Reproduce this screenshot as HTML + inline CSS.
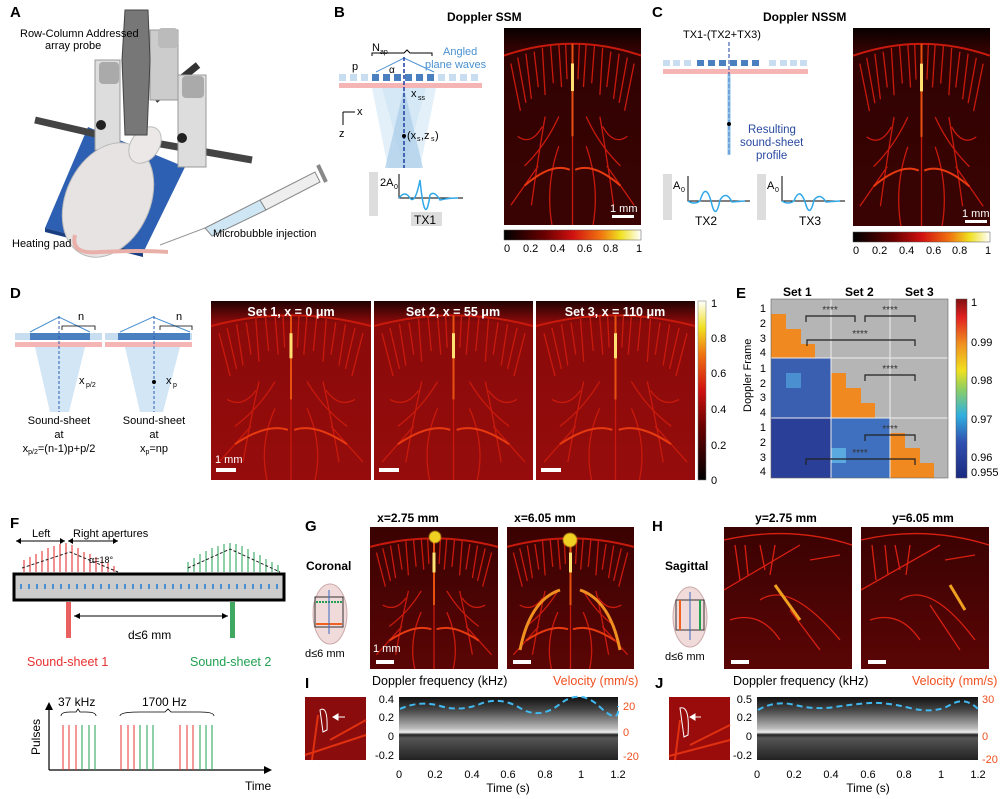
<!DOCTYPE html>
<html><head><meta charset="utf-8"><style>
body{margin:0;background:#fff}
svg{display:block;font-family:"Liberation Sans",Arial,sans-serif}
.pl{font-weight:bold;font-size:15px}
.t{font-size:11px}
.tb{font-size:12px;font-weight:bold}
</style></head><body>
<svg width="1004" height="799" viewBox="0 0 1004 799" xmlns="http://www.w3.org/2000/svg">
<defs>
<linearGradient id="hot" x1="0" x2="1" y1="0" y2="0">
<stop offset="0" stop-color="#000"/><stop offset="0.3" stop-color="#6a0000"/><stop offset="0.5" stop-color="#d01010"/><stop offset="0.7" stop-color="#f07010"/><stop offset="0.85" stop-color="#f0e020"/><stop offset="1" stop-color="#fff"/></linearGradient>
<linearGradient id="hotv" x1="0" x2="0" y1="1" y2="0">
<stop offset="0" stop-color="#000"/><stop offset="0.3" stop-color="#6a0000"/><stop offset="0.5" stop-color="#d01010"/><stop offset="0.7" stop-color="#f07010"/><stop offset="0.85" stop-color="#f0e020"/><stop offset="1" stop-color="#fff"/></linearGradient>
<linearGradient id="jet" x1="0" x2="0" y1="1" y2="0">
<stop offset="0" stop-color="#1a2a80"/><stop offset="0.2" stop-color="#3050b0"/><stop offset="0.35" stop-color="#30b0e0"/><stop offset="0.5" stop-color="#90d060"/><stop offset="0.6" stop-color="#f0e020"/><stop offset="0.75" stop-color="#f09020"/><stop offset="0.9" stop-color="#e02020"/><stop offset="1" stop-color="#801010"/></linearGradient>
<linearGradient id="darkbg" x1="0" x2="0" y1="0" y2="1">
<stop offset="0" stop-color="#080000"/><stop offset="0.1" stop-color="#300202"/><stop offset="1" stop-color="#3a0303"/></linearGradient>
<linearGradient id="medbg" x1="0" x2="0" y1="0" y2="1">
<stop offset="0" stop-color="#200202"/><stop offset="0.12" stop-color="#8a0a0a"/><stop offset="1" stop-color="#960c0c"/></linearGradient>
<linearGradient id="ghbg" x1="0" x2="0" y1="0" y2="1">
<stop offset="0" stop-color="#3a0202"/><stop offset="1" stop-color="#5a0505"/></linearGradient>
<linearGradient id="spec" x1="0" x2="0" y1="0" y2="1">
<stop offset="0" stop-color="#111"/><stop offset="0.2" stop-color="#444"/><stop offset="0.5" stop-color="#bbb"/><stop offset="0.56" stop-color="#eee"/><stop offset="0.6" stop-color="#222"/><stop offset="0.65" stop-color="#555"/><stop offset="1" stop-color="#222"/></linearGradient>
<filter id="bl" x="-10%" y="-10%" width="120%" height="120%"><feGaussianBlur stdDeviation="0.5"/></filter>
<symbol id="brain" viewBox="0 0 100 100" preserveAspectRatio="none">
<g fill="none" stroke="#c81a0c" stroke-width="1.3" vector-effect="non-scaling-stroke">
<path d="M0 14 Q50 2 100 14" stroke-width="2" vector-effect="non-scaling-stroke"/>
<path d="M5 18 L12 42 M10 15 L16 38 M16 13 L20 36 M22 12 L25 30 M28 10 L30 34 M34 9 L36 28 M40 8 L42 30 M45 8 L46 26 M55 8 L54 26 M60 8 L58 30 M66 9 L64 28 M72 10 L70 34 M78 12 L75 30 M84 13 L80 36 M90 15 L84 38 M95 18 L88 42" vector-effect="non-scaling-stroke"/>
<path d="M30 45 Q25 65 20 90 M70 45 Q75 65 80 90 M40 60 Q30 80 35 100 M60 60 Q70 80 65 100 M50 55 L50 100 M10 55 Q20 60 28 50 M90 55 Q80 60 72 50 M15 70 Q30 60 40 45 M85 70 Q70 60 60 45 M5 90 Q15 80 25 70 M95 90 Q85 80 75 70" vector-effect="non-scaling-stroke"/>
<path d="M15 80 Q35 68 48 72 M52 72 Q65 68 85 80" stroke="#e83a10" stroke-width="2" vector-effect="non-scaling-stroke"/>
</g>
<path d="M50 8 L50 55" stroke="#e85010" stroke-width="2" vector-effect="non-scaling-stroke"/>
<path d="M50 18 L50 32" stroke="#ffe070" stroke-width="3" vector-effect="non-scaling-stroke"/>
</symbol>
</defs>

<!-- Panel A -->
<text x="10" y="17" class="pl">A</text>
<polygon points="45,228 143,253 185,167 88,127" fill="#2d5fb2"/>
<polygon points="45,228 143,253 143,257 45,232" fill="#1a3f80"/>
<line x1="35" y1="120" x2="100" y2="135" stroke="#444" stroke-width="7"/>
<line x1="155" y1="143" x2="252" y2="160" stroke="#444" stroke-width="7"/>
<line x1="155" y1="100" x2="198" y2="65" stroke="#333" stroke-width="7"/>
<rect x="150" y="30" width="28" height="70" fill="#ccc" stroke="#999"/>
<rect x="158" y="28" width="20" height="20" rx="4" fill="#bbb"/>
<rect x="95" y="60" width="25" height="90" fill="#ddd" stroke="#999"/>
<rect x="99" y="62" width="20" height="22" rx="4" fill="#aaa"/>
<rect x="178" y="75" width="28" height="92" fill="#ddd" stroke="#999"/>
<rect x="182" y="76" width="22" height="22" rx="4" fill="#aaa"/>
<circle cx="101" cy="125" r="5" fill="#222"/><circle cx="182" cy="138" r="5" fill="#222"/>
<ellipse cx="108" cy="200" rx="42" ry="60" transform="rotate(25 108 200)" fill="#e8e3e3" stroke="#bbb"/>
<ellipse cx="145" cy="145" rx="14" ry="20" transform="rotate(35 145 145)" fill="#ece8e8" stroke="#bbb"/>
<path d="M125 10 L148 10 L150 60 L147 135 L125 135 L122 60 Z" fill="#777" stroke="#444"/>
<path d="M75 235 Q70 255 100 252 Q140 250 168 252" fill="none" stroke="#e8b0a8" stroke-width="4"/>
<line x1="160" y1="245" x2="205" y2="228" stroke="#999" stroke-width="1"/>
<polygon points="205,228 260,200 266,210 212,236" fill="#cfe6f5" stroke="#888"/>
<polygon points="260,200 315,172 320,182 266,210" fill="#eee" stroke="#888"/>
<line x1="318" y1="165" x2="326" y2="182" stroke="#888" stroke-width="4"/>
<text x="20" y="37" class="t">Row-Column Addressed</text>
<text x="45" y="49" class="t">array probe</text>
<text x="12" y="247" class="t">Heating pad</text>
<text x="213" y="237" class="t">Microbubble injection</text>

<!-- Panel B -->
<text x="334" y="17" class="pl">B</text>
<text x="447" y="21" class="tb" font-size="13">Doppler SSM</text>
<text x="372" y="51" class="t">N</text><text x="380" y="54" font-size="7">ap</text>
<path d="M372 56 L372 53 L404 53 L407 50 L410 53 L432 53 L432 56" fill="none" stroke="#000"/>
<text x="443" y="55" class="t" fill="#4a90d0" font-size="12">Angled</text>
<text x="425" y="68" class="t" fill="#4a90d0" font-size="12">plane waves</text>
<text x="352" y="70" class="t">p</text>
<g fill="#c8ddf0"><rect x="339" y="74" width="7" height="7"/><rect x="350" y="74" width="7" height="7"/><rect x="361" y="74" width="7" height="7"/><rect x="438" y="74" width="7" height="7"/><rect x="449" y="74" width="7" height="7"/><rect x="460" y="74" width="7" height="7"/><rect x="471" y="74" width="7" height="7"/></g>
<g fill="#4a7fc0"><rect x="372" y="74" width="7" height="7"/><rect x="383" y="74" width="7" height="7"/><rect x="394" y="74" width="7" height="7"/><rect x="405" y="74" width="7" height="7"/><rect x="416" y="74" width="7" height="7"/><rect x="427" y="74" width="7" height="7"/></g>
<path d="M376 72 L404 58 L434 72" fill="none" stroke="#4a90d0"/>
<text x="389" y="73" font-size="10">α</text>
<rect x="339" y="83" width="143" height="5" fill="#f5b5b5"/>
<polygon points="382,88 426,88 404,168" fill="#c0dcf0" opacity="0.8"/>
<polygon points="372,88 436,88 420,168 388,168" fill="#d8eaf7" opacity="0.7"/>
<polygon points="385,168 423,168 404,88" fill="#a8cce8" opacity="0.7"/>
<line x1="404" y1="57" x2="404" y2="168" stroke="#1f3f9f" stroke-width="1.5" stroke-dasharray="4,2"/>
<text x="411" y="97" class="t">x</text><text x="418" y="100" font-size="7">ss</text>
<path d="M343 112 L343 125 M343 112 L355 112" stroke="#000" fill="none"/>
<text x="357" y="115" class="t">x</text><text x="339" y="137" class="t">z</text>
<circle cx="404" cy="136" r="2" fill="#000"/><text x="407" y="139" class="t">(x</text><text x="417" y="141" font-size="7">s</text><text x="421" y="139" class="t">,z</text><text x="431" y="141" font-size="7">s</text><text x="435" y="139" class="t">)</text>
<rect x="369" y="172" width="9" height="44" fill="#ddd"/>
<text x="380" y="186" class="t">2A</text><text x="394" y="189" font-size="7">0</text>
<path d="M399 174 L399 198 L463 198" stroke="#000" fill="none"/>
<path d="M399 198 Q405 190 410 198 Q415 205 420 180 Q425 230 430 195 Q434 190 440 200 Q448 198 458 198" stroke="#30a8e8" stroke-width="1.5" fill="none"/>
<rect x="411" y="212" width="31" height="14" fill="#ddd"/><text x="414" y="224" font-size="12">TX1</text>
<rect x="504" y="28" width="137" height="197" fill="url(#darkbg)"/>
<use href="#brain" x="504" y="28" width="137" height="197"/>
<rect x="612" y="215" width="22" height="3" fill="#fff"/><text x="610" y="212" class="t" fill="#fff">1 mm</text>
<rect x="504" y="230" width="137" height="10" fill="url(#hot)" stroke="#555" stroke-width="0.5"/>
<g class="t" font-size="11"><text x="504" y="252">0</text><text x="523" y="252">0.2</text><text x="550" y="252">0.4</text><text x="577" y="252">0.6</text><text x="603" y="252">0.8</text><text x="636" y="252">1</text></g>

<!-- Panel C -->
<text x="652" y="17" class="pl">C</text>
<text x="763" y="21" class="tb" font-size="13">Doppler NSSM</text>
<text x="683" y="38" class="t" font-size="12">TX1-(TX2+TX3)</text>
<g fill="#c8ddf0"><rect x="663" y="60" width="7" height="6"/><rect x="673" y="60" width="7" height="6"/><rect x="684" y="60" width="7" height="6"/><rect x="769" y="60" width="7" height="6"/><rect x="780" y="60" width="7" height="6"/><rect x="790" y="60" width="7" height="6"/><rect x="800" y="60" width="7" height="6"/></g>
<g fill="#4a7fc0"><rect x="697" y="60" width="7" height="6"/><rect x="708" y="60" width="7" height="6"/><rect x="719" y="60" width="7" height="6"/><rect x="730" y="60" width="7" height="6"/><rect x="741" y="60" width="7" height="6"/><rect x="752" y="60" width="7" height="6"/></g>
<rect x="663" y="69" width="145" height="5" fill="#f5b5b5"/>
<line x1="729" y1="42" x2="729" y2="155" stroke="#1f3f9f" stroke-dasharray="4,2"/>
<line x1="729" y1="74" x2="729" y2="155" stroke="#60a8e0" stroke-width="3" opacity="0.7"/>
<circle cx="729" cy="124" r="2" fill="#000"/>
<g fill="#2a4aa0" font-size="11.5"><text x="748" y="133">Resulting</text><text x="740" y="146">sound-sheet</text><text x="756" y="159">profile</text></g>
<rect x="663" y="174" width="9" height="46" fill="#ddd"/><rect x="757" y="174" width="9" height="46" fill="#ddd"/>
<text x="673" y="189" class="t">A</text><text x="681" y="192" font-size="7">0</text>
<text x="767" y="189" class="t">A</text><text x="775" y="192" font-size="7">0</text>
<path d="M688 176 L688 201 L750 201 M782 176 L782 201 L845 201" stroke="#000" fill="none"/>
<path d="M688 201 Q694 205 700 201 Q706 180 712 205 Q716 220 720 200 Q726 190 732 202 L745 201" stroke="#30a8e8" stroke-width="1.5" fill="none"/>
<path d="M782 201 Q788 205 794 201 Q800 185 806 205 Q810 218 814 200 Q820 192 826 202 L840 201" stroke="#30a8e8" stroke-width="1.5" fill="none"/>
<text x="695" y="225" font-size="12">TX2</text><text x="799" y="225" font-size="12">TX3</text>
<rect x="853" y="28" width="137" height="198" fill="url(#darkbg)"/>
<use href="#brain" x="853" y="28" width="137" height="198"/>
<rect x="965" y="220" width="22" height="3" fill="#fff"/><text x="962" y="217" class="t" fill="#fff">1 mm</text>
<rect x="853" y="232" width="137" height="10" fill="url(#hot)" stroke="#555" stroke-width="0.5"/>
<g class="t"><text x="853" y="254">0</text><text x="872" y="254">0.2</text><text x="899" y="254">0.4</text><text x="926" y="254">0.6</text><text x="952" y="254">0.8</text><text x="985" y="254">1</text></g>

<!-- Panel D -->
<text x="10" y="298" class="pl">D</text>
<g>
<rect x="15" y="333" width="87" height="7" fill="#c8ddf0"/><rect x="30" y="333" width="60" height="7" fill="#4a7fc0"/>
<rect x="105" y="333" width="87" height="7" fill="#c8ddf0"/><rect x="118" y="333" width="72" height="7" fill="#4a7fc0"/>
<rect x="15" y="342" width="87" height="5" fill="#f5b5b5"/><rect x="105" y="342" width="87" height="5" fill="#f5b5b5"/>
<path d="M30 332 L59 317 L90 332 M120 332 L153 317 L190 332" fill="none" stroke="#4a90d0"/>
<polygon points="35,347 85,347 69,412 50,412" fill="#c8e0f4" opacity="0.8"/>
<polygon points="125,347 180,347 163,412 140,412" fill="#c8e0f4" opacity="0.8"/>
<line x1="59" y1="316" x2="59" y2="412" stroke="#2a5fb0" stroke-dasharray="3,2"/>
<line x1="154" y1="316" x2="154" y2="412" stroke="#2a5fb0" stroke-dasharray="3,2"/>
<text x="78" y="320" class="t">n</text><text x="176" y="320" class="t">n</text>
<path d="M62 330 L62 326 L95 326 L95 330 M160 330 L160 326 L192 326 L192 330" fill="none" stroke="#000" stroke-width="0.8"/>
<circle cx="154" cy="382" r="2" fill="#000"/>
<text x="79" y="384" class="t">x</text><text x="86" y="387" font-size="7">p/2</text>
<text x="166" y="384" class="t">x</text><text x="173" y="387" font-size="7">p</text>
<g font-size="11" text-anchor="middle"><text x="59" y="424">Sound-sheet</text><text x="59" y="438">at</text><text x="59" y="452">x<tspan font-size="7" dy="2">p/2</tspan><tspan dy="-2">=(n-1)p+p/2</tspan></text>
<text x="154" y="424">Sound-sheet</text><text x="154" y="438">at</text><text x="154" y="452">x<tspan font-size="7" dy="2">p</tspan><tspan dy="-2">=np</tspan></text></g>
</g>
<rect x="211" y="301" width="160" height="179" fill="url(#medbg)"/><use href="#brain" x="211" y="301" width="160" height="179"/>
<rect x="374" y="301" width="159" height="179" fill="url(#medbg)"/><use href="#brain" x="374" y="301" width="159" height="179"/>
<rect x="536" y="301" width="159" height="179" fill="url(#medbg)"/><use href="#brain" x="536" y="301" width="159" height="179"/>
<g fill="#fff" font-size="12.5" font-weight="bold" text-anchor="middle"><text x="291" y="316">Set 1, x = 0 μm</text><text x="453" y="316">Set 2, x = 55 μm</text><text x="615" y="316">Set 3, x = 110 μm</text></g>
<text x="215" y="463" class="t" fill="#fff">1 mm</text>
<rect x="216" y="468" width="20" height="4" fill="#fff"/><rect x="379" y="468" width="20" height="4" fill="#fff"/><rect x="541" y="468" width="20" height="4" fill="#fff"/>
<rect x="698" y="301" width="8" height="179" fill="url(#hotv)" stroke="#777" stroke-width="0.5"/>
<g class="t"><text x="711" y="307">1</text><text x="711" y="342">0.8</text><text x="711" y="377">0.6</text><text x="711" y="413">0.4</text><text x="711" y="449">0.2</text><text x="711" y="484">0</text></g>

<!-- Panel E -->
<text x="736" y="298" class="pl">E</text>
<g class="tb" font-size="13"><text x="783" y="296">Set 1</text><text x="845" y="296">Set 2</text><text x="905" y="296">Set 3</text></g>
<rect x="771" y="299" width="177" height="179" fill="#b5b5b5"/>
<rect x="771" y="358" width="60" height="120" fill="#3a5fb0"/>
<rect x="771" y="418" width="60" height="60" fill="#2a3f98"/>
<rect x="831" y="418" width="59" height="60" fill="#3f70c0"/>
<rect x="786" y="373" width="15" height="15" fill="#4a90d0"/><rect x="831" y="448" width="15" height="15" fill="#5aaae0"/>
<g fill="#f08a20">
<rect x="771" y="314" width="15" height="15"/><rect x="771" y="329" width="30" height="15"/><rect x="771" y="344" width="44" height="14"/>
<rect x="831" y="373" width="15" height="15"/><rect x="831" y="388" width="30" height="15"/><rect x="831" y="403" width="44" height="15"/>
<rect x="890" y="433" width="15" height="15"/><rect x="890" y="448" width="30" height="15"/><rect x="890" y="463" width="44" height="15"/>
</g>
<path d="M771 358 H948 M771 418 H948 M831 299 V478 M890 299 V478" stroke="#eee" stroke-width="1"/>
<rect x="771" y="299" width="177" height="179" fill="none" stroke="#666" stroke-width="0.6"/>
<g fill="none" stroke="#222" stroke-width="1.2">
<path d="M806 322 V316 H855 V322 M865 322 V316 H915 V322 M807 346 V340 H915 V346 M865 381 V375 H915 V381 M865 441 V435 H915 V441 M806 465 V459 H915 V465"/></g>
<g font-size="10" fill="#333" text-anchor="middle"><text x="830" y="313">****</text><text x="890" y="313">****</text><text x="860" y="337">****</text><text x="890" y="372">****</text><text x="890" y="432">****</text><text x="860" y="456">****</text></g>
<g class="t" text-anchor="end"><text x="766" y="312">1</text><text x="766" y="327">2</text><text x="766" y="342">3</text><text x="766" y="356">4</text><text x="766" y="372">1</text><text x="766" y="387">2</text><text x="766" y="401">3</text><text x="766" y="416">4</text><text x="766" y="431">1</text><text x="766" y="446">2</text><text x="766" y="461">3</text><text x="766" y="475">4</text></g>
<text transform="translate(751 412) rotate(-90)" class="t">Doppler Frame</text>
<rect x="956" y="299" width="11" height="179" fill="url(#jet)" stroke="#555" stroke-width="0.5"/>
<g class="t"><text x="971" y="306">1</text><text x="971" y="346">0.99</text><text x="971" y="384">0.98</text><text x="971" y="423">0.97</text><text x="971" y="461">0.96</text><text x="971" y="476">0.955</text></g>

<!-- Panel F -->
<text x="10" y="528" class="pl">F</text>
<text x="32" y="537" class="t">Left</text><text x="73" y="537" class="t">Right apertures</text>
<path d="M16 541 H65 M68 541 H118" stroke="#000"/>
<path d="M16 541 l5 -3 v6 z M65 541 l-5 -3 v6z M68 541 l5 -3 v6z M118 541 l-5 -3 v6z" fill="#000"/>
<g stroke="#e02020" stroke-width="1"><path d="M24 572 v-12 M30 572 v-15 M36 572 v-18 M42 572 v-21 M48 572 v-24 M54 572 v-26 M60 572 v-28 M66 572 v-29 M72 572 v-27 M78 572 v-24 M84 572 v-20 M90 572 v-18 M96 572 v-15 M102 572 v-12 M108 572 v-9 M114 572 v-6"/></g>
<g stroke="#20a050" stroke-width="1"><path d="M188 572 v-10 M194 572 v-14 M200 572 v-18 M206 572 v-21 M212 572 v-24 M218 572 v-26 M224 572 v-28 M230 572 v-29 M236 572 v-28 M242 572 v-26 M248 572 v-23 M254 572 v-20 M260 572 v-17 M266 572 v-13 M272 572 v-10 M278 572 v-7"/></g>
<path d="M22 568 L70 552 L118 572 M188 568 L230 549 L280 572" stroke="#222" stroke-dasharray="3,2" fill="none"/>
<text x="89" y="563" font-size="9">α=18°</text>
<rect x="14" y="574" width="270" height="26" fill="#ccc" stroke="#000" stroke-width="3"/>
<g fill="#4a90d0"><rect x="20" y="584" width="2" height="5"/><rect x="28" y="584" width="2" height="5"/><rect x="36" y="584" width="2" height="5"/><rect x="44" y="584" width="2" height="5"/><rect x="52" y="584" width="2" height="5"/><rect x="60" y="584" width="2" height="5"/><rect x="68" y="584" width="2" height="5"/><rect x="76" y="584" width="2" height="5"/><rect x="84" y="584" width="2" height="5"/><rect x="92" y="584" width="2" height="5"/><rect x="100" y="584" width="2" height="5"/><rect x="108" y="584" width="2" height="5"/><rect x="116" y="584" width="2" height="5"/><rect x="124" y="584" width="2" height="5"/><rect x="132" y="584" width="2" height="5"/><rect x="140" y="584" width="2" height="5"/><rect x="148" y="584" width="2" height="5"/><rect x="156" y="584" width="2" height="5"/><rect x="164" y="584" width="2" height="5"/><rect x="172" y="584" width="2" height="5"/><rect x="180" y="584" width="2" height="5"/><rect x="188" y="584" width="2" height="5"/><rect x="196" y="584" width="2" height="5"/><rect x="204" y="584" width="2" height="5"/><rect x="212" y="584" width="2" height="5"/><rect x="220" y="584" width="2" height="5"/><rect x="228" y="584" width="2" height="5"/><rect x="236" y="584" width="2" height="5"/><rect x="244" y="584" width="2" height="5"/><rect x="252" y="584" width="2" height="5"/><rect x="260" y="584" width="2" height="5"/><rect x="268" y="584" width="2" height="5"/><rect x="276" y="584" width="2" height="5"/></g>
<rect x="66" y="602" width="5" height="36" fill="#e86060"/><rect x="230" y="602" width="5" height="36" fill="#40a860"/>
<path d="M74 616 H228" stroke="#000"/><path d="M74 616 l6 -3 v6z M228 616 l-6 -3 v6z" fill="#000"/>
<text x="128" y="639" font-size="12">d≤6 mm</text>
<text x="27" y="666" font-size="12.5" fill="#e83030">Sound-sheet 1</text>
<text x="190" y="666" font-size="12.5" fill="#20a050">Sound-sheet 2</text>
<text x="58" y="706" font-size="12">37 kHz</text><text x="142" y="706" font-size="12">1700 Hz</text>
<path d="M61 716 Q61 712 70 712 L76 712 L78 709 L80 712 L86 712 Q96 712 96 716 M120 716 Q120 712 140 712 L165 712 L168 709 L171 712 L200 712 Q214 712 214 716" fill="none" stroke="#000" stroke-width="0.8"/>
<path d="M49 770 V708 M49 770 H268" stroke="#000" stroke-width="1.2"/>
<path d="M49 702 l-4 8 h8z M272 770 l-8 -4 v8z" fill="#000"/>
<g stroke="#e83030"><path d="M63 725 V770 M69 725 V770 M76 725 V770 M121 725 V770 M128 725 V770 M134 725 V770 M180 725 V770 M187 725 V770 M193 725 V770"/></g>
<g stroke="#20a050"><path d="M82 725 V770 M89 725 V770 M95 725 V770 M140 725 V770 M147 725 V770 M153 725 V770 M200 725 V770 M206 725 V770 M212 725 V770"/></g>
<text transform="translate(40 755) rotate(-90)" font-size="12">Pulses</text>
<text x="245" y="790" font-size="12">Time</text>

<!-- Panel G -->
<text x="305" y="531" class="pl">G</text>
<text x="408" y="522" class="tb" font-size="10.5" text-anchor="middle">x=2.75 mm</text>
<text x="545" y="522" class="tb" font-size="10.5" text-anchor="middle">x=6.05 mm</text>
<text x="306" y="570" class="tb">Coronal</text>
<ellipse cx="330" cy="614" rx="17" ry="30" fill="#f0dada" stroke="#caa"/>
<rect x="315" y="597" width="28" height="30" fill="none" stroke="#333"/>
<line x1="316" y1="602" x2="342" y2="602" stroke="#20a050" stroke-width="2" stroke-dasharray="2,1"/>
<line x1="316" y1="624" x2="342" y2="624" stroke="#f06020" stroke-width="2"/>
<line x1="329" y1="590" x2="329" y2="634" stroke="#3a6ac0"/>
<text x="305" y="657" class="t">d≤6 mm</text>
<rect x="370" y="527" width="128" height="142" fill="url(#ghbg)"/><use href="#brain" x="370" y="527" width="128" height="142"/>
<rect x="507" y="527" width="127" height="142" fill="url(#ghbg)"/><use href="#brain" x="507" y="527" width="127" height="142"/>
<circle cx="435" cy="537" r="6" fill="#f0d020" filter="url(#bl)"/><circle cx="570" cy="540" r="7" fill="#f0d020" filter="url(#bl)"/>
<path d="M520 650 Q530 600 560 590 M620 650 Q610 600 580 590" stroke="#f09020" stroke-width="3" fill="none"/>
<text x="373" y="652" class="t" fill="#fff">1 mm</text>
<rect x="376" y="660" width="18" height="4" fill="#fff"/><rect x="513" y="660" width="18" height="4" fill="#fff"/>

<!-- Panel H -->
<text x="652" y="531" class="pl">H</text>
<text x="786" y="522" class="tb" font-size="10.5" text-anchor="middle">y=2.75 mm</text>
<text x="923" y="522" class="tb" font-size="10.5" text-anchor="middle">y=6.05 mm</text>
<text x="665" y="570" class="tb">Sagittal</text>
<ellipse cx="690" cy="617" rx="17" ry="30" fill="#f0dada" stroke="#caa"/>
<rect x="676" y="600" width="28" height="30" fill="none" stroke="#333"/>
<line x1="680" y1="600" x2="680" y2="630" stroke="#f06020" stroke-width="2"/>
<line x1="700" y1="600" x2="700" y2="630" stroke="#20a050" stroke-width="2"/>
<line x1="690" y1="592" x2="690" y2="640" stroke="#3a6ac0"/>
<text x="665" y="660" class="t">d≤6 mm</text>
<rect x="724" y="527" width="128" height="142" fill="url(#ghbg)"/>
<rect x="861" y="527" width="128" height="142" fill="url(#ghbg)"/>
<g fill="none" stroke="#d82010" stroke-width="1.3">
<path d="M724 540 Q790 525 852 545 M724 590 L800 545 M735 545 L740 580 M745 545 L748 575 M760 545 L765 570 M775 545 L770 575 M790 610 L820 650 M760 600 Q790 580 840 640 M730 620 Q760 610 780 640 M810 560 L840 555"/>
<path d="M861 540 Q925 525 989 545 M861 590 L940 545 M872 545 L876 580 M885 545 L888 575 M895 545 L900 570 M910 545 L906 575 M930 605 L960 650 M900 600 Q930 580 975 640 M870 620 Q900 610 920 640 M945 560 L975 555"/>
</g>
<path d="M775 585 L800 620 M950 585 L965 610" stroke="#f0a020" stroke-width="3"/>
<rect x="731" y="660" width="18" height="4" fill="#fff"/><rect x="868" y="660" width="18" height="4" fill="#fff"/>

<!-- Panel I -->
<text x="305" y="688" class="pl">I</text>
<rect x="305" y="697" width="61" height="63" fill="#8a0c0c"/>
<path d="M318 715 L312 760 M330 740 L366 720 M305 755 L366 735" stroke="#e03010" stroke-width="2" fill="none"/>
<path d="M320 710 Q328 705 327 730 L323 732 Z" fill="none" stroke="#fff"/>
<path d="M333 717 H345 M333 717 l5 -3 v6z" stroke="#fff" fill="#fff"/>
<text x="372" y="685" font-size="12.5">Doppler frequency (kHz)</text>
<text x="553" y="685" font-size="12.5" fill="#f05020">Velocity (mm/s)</text>
<rect x="399" y="697" width="219" height="63" fill="url(#spec)"/>
<path d="M400 709 Q420 700 440 706 T480 704 T520 708 T560 704 T600 707 T618 706" stroke="#40b8f0" stroke-width="2" stroke-dasharray="6,4" fill="none"/>
<g class="t" font-size="12" text-anchor="end"><text x="394" y="703">0.4</text><text x="394" y="721">0.2</text><text x="394" y="740">0</text><text x="394" y="759">-0.2</text></g>
<g class="t" font-size="12" fill="#f05020"><text x="623" y="710">20</text><text x="623" y="736">0</text><text x="623" y="760">-20</text></g>
<g class="t" font-size="12" text-anchor="middle"><text x="399" y="778">0</text><text x="435" y="778">0.2</text><text x="472" y="778">0.4</text><text x="508" y="778">0.6</text><text x="545" y="778">0.8</text><text x="581" y="778">1</text><text x="618" y="778">1.2</text></g>
<text x="508" y="792" font-size="12" text-anchor="middle">Time (s)</text>

<!-- Panel J -->
<text x="655" y="688" class="pl">J</text>
<rect x="669" y="697" width="61" height="63" fill="#9a0c0c"/>
<path d="M680 720 L675 760 M690 745 L730 725 M669 756 L730 740" stroke="#e03010" stroke-width="2" fill="none"/>
<path d="M680 708 Q690 705 688 735 L684 737 Z" fill="none" stroke="#fff"/>
<path d="M690 717 H701 M690 717 l5 -3 v6z" stroke="#fff" fill="#fff"/>
<text x="733" y="685" font-size="12.5">Doppler frequency (kHz)</text>
<text x="912" y="685" font-size="12.5" fill="#f05020">Velocity (mm/s)</text>
<rect x="757" y="697" width="221" height="63" fill="url(#spec)"/>
<path d="M758 710 Q775 700 795 705 T835 707 T870 703 T910 708 T950 705 T978 709" stroke="#40b8f0" stroke-width="2" stroke-dasharray="6,4" fill="none"/>
<g class="t" font-size="12" text-anchor="end"><text x="752" y="703">0.5</text><text x="752" y="721">0.2</text><text x="752" y="740">0</text><text x="752" y="759">-0.2</text></g>
<g class="t" font-size="12" fill="#f05020"><text x="982" y="703">30</text><text x="982" y="740">0</text><text x="982" y="763">-20</text></g>
<g class="t" font-size="12" text-anchor="middle"><text x="757" y="778">0</text><text x="794" y="778">0.2</text><text x="831" y="778">0.4</text><text x="868" y="778">0.6</text><text x="904" y="778">0.8</text><text x="941" y="778">1</text><text x="978" y="778">1.2</text></g>
<text x="868" y="792" font-size="12" text-anchor="middle">Time (s)</text>
</svg>
</body></html>
